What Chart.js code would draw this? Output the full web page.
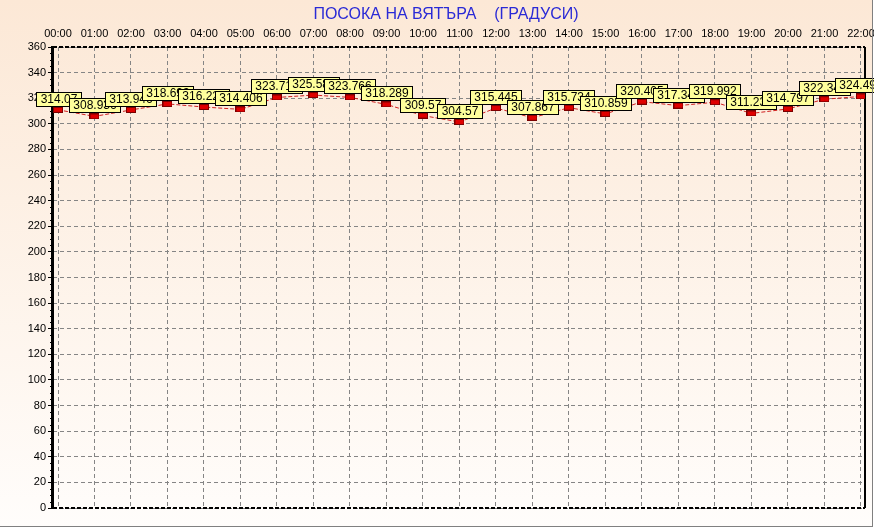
<!DOCTYPE html>
<html>
<head>
<meta charset="utf-8">
<script src="https://cdn.jsdelivr.net/npm/chart.js@4/dist/chart.umd.min.js"></script>
<style>
  html, body { margin: 0; padding: 0; background: #ffffff; }
  #wrap { width: 874px; height: 529px; position: relative; }
</style>
</head>
<body>
<div id="wrap"><canvas id="c" width="874" height="529"></canvas></div>
<script>
const chartTitle = 'ПОСОКА НА ВЯТЪРА    (ГРАДУСИ)';
const hours = ['00:00','01:00','02:00','03:00','04:00','05:00','06:00','07:00','08:00','09:00','10:00','11:00',
               '12:00','13:00','14:00','15:00','16:00','17:00','18:00','19:00','20:00','21:00','22:00'];
const windDir = [314.07, 308.936, 313.946, 318.693, 316.227, 314.406, 323.713, 325.584, 323.766, 318.289, 309.57, 304.57,
                 315.445, 307.867, 315.734, 310.859, 320.405, 317.346, 319.992, 311.234, 314.797, 322.346, 324.493];
const yMin = 0, yMax = 360, yStep = 20, yMinorStep = 5;

const FONT = '"Liberation Sans", Arial, sans-serif';

// marker image: small red rectangle
const marker = document.createElement('canvas');
marker.width = 10; marker.height = 6;
(function(){
  const m = marker.getContext('2d');
  m.fillStyle = '#7a0000'; m.fillRect(0,0,10,6);
  m.fillStyle = '#e00000'; m.fillRect(1,1,8,4);
})();

const bgPlugin = {
  id: 'bg',
  beforeDraw(chart) {
    const ctx = chart.ctx;
    const g = ctx.createLinearGradient(0, 0, 0, 526);
    g.addColorStop(0, '#fce8d6');
    g.addColorStop(1, '#fffdfb');
    ctx.save();
    ctx.fillStyle = g;
    ctx.fillRect(0, 0, 872, 526);
    ctx.restore();
  },
  beforeDatasetsDraw(chart) {
    const ctx = chart.ctx, a = chart.chartArea, ys = chart.scales.y;
    ctx.save();
    // minor ticks
    ctx.strokeStyle = '#000'; ctx.lineWidth = 1;
    for (let v = yMin; v <= yMax; v += yMinorStep) {
      if (v % yStep === 0) continue;
      const py = Math.round(ys.getPixelForValue(v)) + 0.5;
      ctx.beginPath(); ctx.moveTo(a.left - 3, py); ctx.lineTo(a.left, py); ctx.stroke();
    }
    // frame: top & bottom dashed black, right solid, left thick
    ctx.setLineDash([4, 2]);
    ctx.lineWidth = 2;
    ctx.beginPath(); ctx.moveTo(a.left, a.top); ctx.lineTo(a.right, a.top); ctx.stroke();
    ctx.beginPath(); ctx.moveTo(a.left, a.bottom); ctx.lineTo(a.right, a.bottom); ctx.stroke();
    ctx.setLineDash([]);
    ctx.lineWidth = 2;
    ctx.beginPath(); ctx.moveTo(a.right, a.top); ctx.lineTo(a.right, a.bottom); ctx.stroke();
    ctx.lineWidth = 3;
    ctx.beginPath(); ctx.moveTo(a.left - 0.5, a.top - 1); ctx.lineTo(a.left - 0.5, a.bottom + 1); ctx.stroke();
    ctx.restore();
  },
  beforeDatasetDraw(chart) {
    chart.ctx.save();
    chart.ctx.translate(0, 4);
  },
  afterDatasetDraw(chart) {
    chart.ctx.restore();
  },
  afterDatasetsDraw(chart) {
    const ctx = chart.ctx, meta = chart.getDatasetMeta(0);
    ctx.save();
    ctx.font = '12px ' + FONT;
    ctx.textBaseline = 'middle';
    ctx.textAlign = 'center';
    meta.data.forEach((pt, i) => {
      const txt = String(windDir[i]);
      const w = Math.round(ctx.measureText(txt).width) + 8;
      const h = 14;
      const x = Math.round(pt.x - w / 2) + 0.5;
      const y = Math.round(pt.y - h) + 0.5;
      ctx.fillStyle = '#ffff9c';
      ctx.fillRect(x, y, w, h);
      ctx.strokeStyle = '#000'; ctx.lineWidth = 1;
      ctx.strokeRect(x, y, w, h);
      ctx.fillStyle = '#000';
      ctx.fillText(txt, x + w / 2, y + h / 2 + 0.5);
    });
    ctx.restore();
  },
  afterDraw(chart) {
    const ctx = chart.ctx;
    ctx.save();
    ctx.font = '16px ' + FONT;
    ctx.fillStyle = '#2a2ad6';
    ctx.textAlign = 'center';
    ctx.textBaseline = 'middle';
    ctx.fillText(chartTitle, 446, 15);
    ctx.fillStyle = '#808080';
    ctx.fillRect(0, 526, 873, 1);
    ctx.fillRect(872, 0, 1, 527);
    ctx.restore();
  }
};

new Chart(document.getElementById('c'), {
  type: 'line',
  data: {
    datasets: [{
      data: windDir.map((v, i) => ({ x: i, y: v })),
      borderColor: '#d02020',
      borderWidth: 1,
      borderDash: [4, 2],
      fill: false,
      tension: 0,
      pointStyle: marker,
      pointRadius: 5,
      pointHoverRadius: 5
    }]
  },
  options: {
    responsive: false,
    animation: false,
    devicePixelRatio: 1,
    events: [],
    layout: { padding: { top: 28, right: 9, bottom: 21, left: 0 } },
    plugins: { legend: { display: false }, title: { display: false }, tooltip: { enabled: false } },
    scales: {
      x: {
        type: 'linear',
        position: 'top',
        min: -0.137,
        max: 22.11,
        afterBuildTicks: s => { s.ticks = hours.map((h, i) => ({ value: i })); },
        afterFit: s => { s.height = 19; s.paddingLeft = 0; s.paddingRight = 0; },
        ticks: {
          callback: v => hours[v],
          font: { size: 11, family: FONT },
          color: '#000',
          padding: 6,
          maxRotation: 0,
          autoSkip: false
        },
        grid: { color: '#858585', lineWidth: 1, drawTicks: false },
        border: { display: false, dash: [4, 3] }
      },
      y: {
        type: 'linear',
        position: 'left',
        min: yMin,
        max: yMax,
        afterFit: s => { s.width = 53; s.paddingTop = 0; s.paddingBottom = 0; },
        ticks: {
          stepSize: yStep,
          font: { size: 11, family: FONT },
          color: '#000',
          padding: 2
        },
        grid: { color: '#858585', lineWidth: 1, tickLength: 5, tickColor: '#000', tickBorderDash: [] },
        border: { display: false, dash: [4, 3] }
      }
    }
  },
  plugins: [bgPlugin]
});
</script>
</body>
</html>
